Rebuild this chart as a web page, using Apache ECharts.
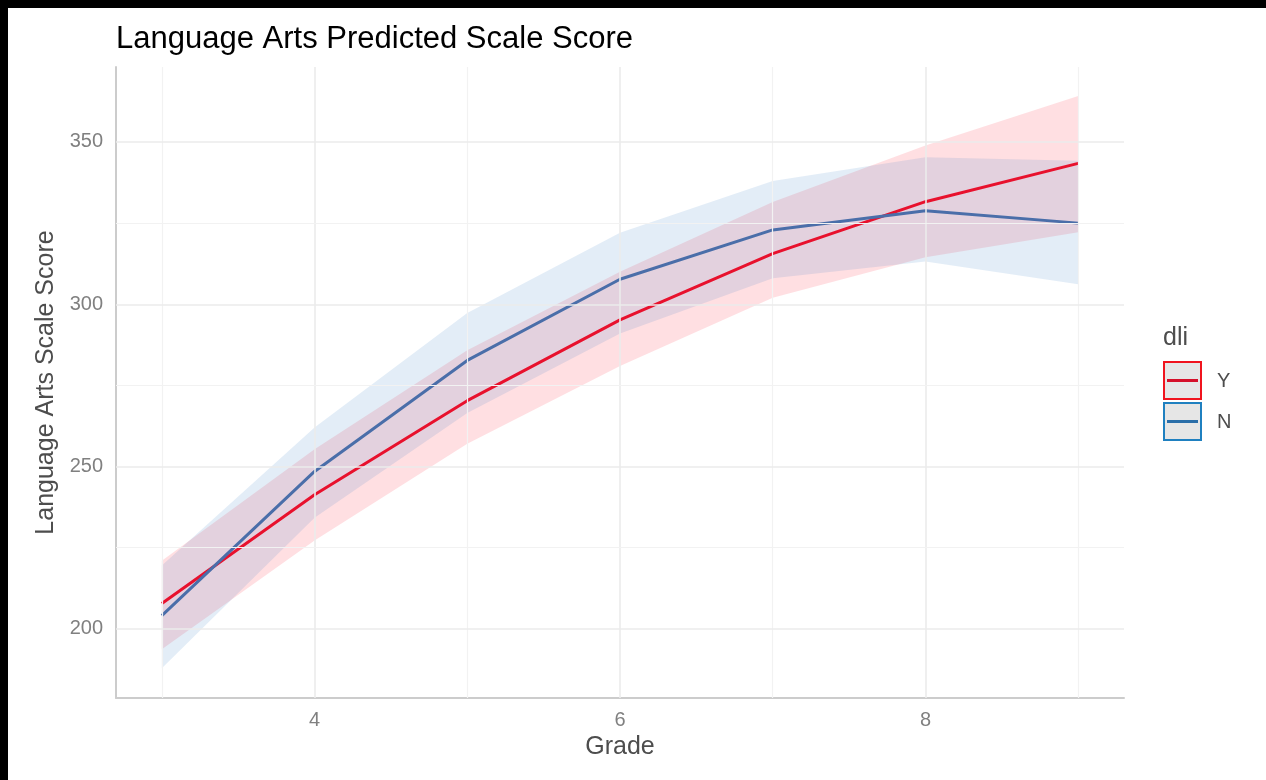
<!DOCTYPE html>
<html>
<head>
<meta charset="utf-8">
<script src="https://cdn.jsdelivr.net/npm/echarts@6/dist/echarts.min.js"></script>
<style>
  html, body { margin: 0; padding: 0; background: #ffffff; }
  #chart { width: 1266px; height: 780px; }
</style>
</head>
<body>
<div id="chart"></div>
<script>
// Grades on the x axis
const grades = [3, 4, 5, 6, 7, 8, 9];

// dli = Y: predicted score with confidence band
const yFit   = [207.8, 241.3, 270.3, 295.2, 315.6, 331.6, 343.4];
const yLower = [193.7, 227.2, 257.0, 281.0, 302.0, 314.5, 322.2];
const yUpper = [221.0, 255.3, 285.8, 310.0, 331.5, 348.9, 364.2];

// dli = N: predicted score with confidence band
const nFit   = [204.1, 248.5, 282.7, 307.7, 322.9, 328.8, 325.0];
const nLower = [187.9, 234.2, 266.5, 291.0, 308.0, 313.2, 306.2];
const nUpper = [219.5, 262.0, 297.3, 322.0, 338.0, 345.3, 344.2];

// Tick labels and grid positions
const xTicks = [4, 6, 8];
const yTicks = [200, 250, 300, 350];
const xMinorGrid = [3, 5, 7, 9];
const yMinorGrid = [225, 275, 325];

const groups = ['Y', 'N'];

const RED = '#e8112d';
const BLUE = '#4a6ea9';
const FONT = '"Liberation Sans", Arial, Helvetica, sans-serif';

const chart = echarts.init(document.getElementById('chart'), null, { renderer: 'canvas' });

function bandSeries(name, lower, upper, fill) {
  return {
    name: name + ' band',
    type: 'custom',
    z: 1,
    silent: true,
    data: grades.map((g, i) => [g, upper[i], lower[i]]),
    encode: { x: 0, y: [1, 2] },
    renderItem: function (params, api) {
      if (params.dataIndex !== 0) return null;
      const top = grades.map((g, i) => api.coord([g, upper[i]]));
      const bottom = grades.map((g, i) => api.coord([g, lower[i]])).reverse();
      return {
        type: 'polygon',
        shape: { points: top.concat(bottom) },
        style: { fill: fill }
      };
    }
  };
}

const majorGrid = { color: '#ebebeb', width: 1.6, type: 'solid' };
const minorGrid = { color: '#f2f2f2', width: 1.2, type: 'solid' };

const gridLines = []
  .concat(xTicks.map(v => ({ xAxis: v, lineStyle: majorGrid })))
  .concat(xMinorGrid.map(v => ({ xAxis: v, lineStyle: minorGrid })))
  .concat(yTicks.map(v => ({ yAxis: v, lineStyle: majorGrid })))
  .concat(yMinorGrid.map(v => ({ yAxis: v, lineStyle: minorGrid })));

const option = {
  backgroundColor: '#ffffff',
  animation: false,
  title: {
    text: 'Language Arts Predicted Scale Score',
    left: 116,
    top: 23,
    padding: 0,
    textStyle: { fontFamily: FONT, fontSize: 31, fontWeight: 'normal', color: '#000000', lineHeight: 32 }
  },
  grid: { left: 116, right: 142, top: 67, bottom: 82, containLabel: false },
  xAxis: {
    type: 'value',
    min: 2.7,
    max: 9.3,
    name: 'Grade',
    nameLocation: 'middle',
    nameGap: 34,
    nameTextStyle: { fontFamily: FONT, fontSize: 25, color: '#4d4d4d' },
    axisLine: { show: true, onZero: false, lineStyle: { color: '#cccccc', width: 2 } },
    axisTick: { show: false },
    splitLine: { show: false },
    axisLabel: {
      customValues: xTicks,
      fontFamily: FONT, fontSize: 20, color: '#808080', margin: 12
    }
  },
  yAxis: {
    type: 'value',
    min: 178.7,
    max: 373.1,
    name: 'Language Arts Scale Score',
    nameLocation: 'middle',
    nameGap: 54,
    nameTextStyle: { fontFamily: FONT, fontSize: 25, color: '#4d4d4d' },
    axisLine: { show: true, onZero: false, lineStyle: { color: '#cccccc', width: 2 } },
    axisTick: { show: false },
    splitLine: { show: false },
    axisLabel: {
      customValues: yTicks,
      fontFamily: FONT, fontSize: 20, color: '#808080', margin: 13
    }
  },
  series: [
    {
      name: 'grid',
      type: 'line',
      z: 0,
      silent: true,
      data: grades.map((g, i) => [g, yFit[i]]),
      showSymbol: false,
      lineStyle: { opacity: 0 },
      markLine: {
        silent: true,
        symbol: 'none',
        label: { show: false },
        animation: false,
        data: gridLines
      }
    },
    bandSeries('Y', yLower, yUpper, 'rgba(255, 40, 60, 0.15)'),
    bandSeries('N', nLower, nUpper, 'rgba(60, 125, 195, 0.14)'),
    {
      name: 'Y',
      type: 'line',
      z: 3,
      data: grades.map((g, i) => [g, yFit[i]]),
      showSymbol: false,
      lineStyle: { color: RED, width: 3 }
    },
    {
      name: 'N',
      type: 'line',
      z: 3,
      data: grades.map((g, i) => [g, nFit[i]]),
      showSymbol: false,
      lineStyle: { color: BLUE, width: 3 }
    }
  ],
  graphic: [
    // frame strips along the top and left edges
    { type: 'rect', left: 0, top: 0, z: 100, shape: { width: 1266, height: 8 }, style: { fill: '#000000' } },
    { type: 'rect', left: 0, top: 0, z: 100, shape: { width: 8, height: 780 }, style: { fill: '#000000' } },
    // legend
    {
      type: 'group', left: 1163, top: 326, z: 50,
      children: [
        { type: 'text', x: 0, y: 0, style: { text: 'dli', font: '25px ' + FONT, fill: '#4d4d4d' } },
        { type: 'rect', x: 1, y: 36, shape: { width: 37, height: 37 }, style: { fill: '#e6e6e6', stroke: '#f0141e', lineWidth: 2 } },
        { type: 'line', shape: { x1: 4, y1: 54.5, x2: 35, y2: 54.5 }, style: { stroke: '#d5102a', lineWidth: 3 } },
        { type: 'text', x: 54, y: 45, style: { text: groups[0], font: '20px ' + FONT, fill: '#4d4d4d' } },
        { type: 'rect', x: 1, y: 77, shape: { width: 37, height: 37 }, style: { fill: '#e6e6e6', stroke: '#1f80c0', lineWidth: 2 } },
        { type: 'line', shape: { x1: 4, y1: 95.5, x2: 35, y2: 95.5 }, style: { stroke: '#2a6ea8', lineWidth: 3 } },
        { type: 'text', x: 54, y: 86, style: { text: groups[1], font: '20px ' + FONT, fill: '#4d4d4d' } }
      ]
    }
  ]
};

chart.setOption(option);
</script>
</body>
</html>
